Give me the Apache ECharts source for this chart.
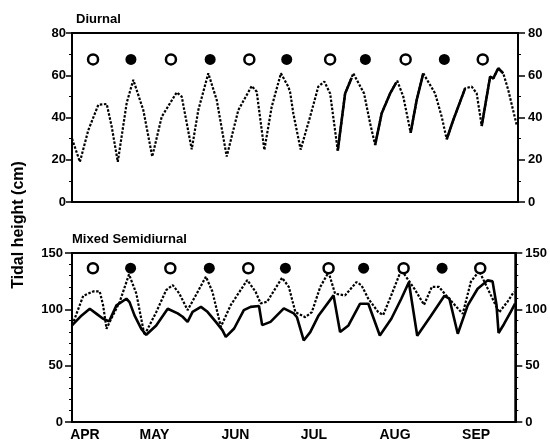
<!DOCTYPE html>
<html>
<head>
<meta charset="utf-8">
<script src="https://cdn.jsdelivr.net/npm/echarts@6/dist/echarts.min.js"></script>
<style>
html,body{margin:0;padding:0;background:#fff;}
#chart{width:550px;height:444px;}
</style>
</head>
<body>
<div id="chart"></div>
<script>
// x values are days counted from 1 April
const months = ['APR', 'MAY', 'JUN', 'JUL', 'AUG', 'SEP'];
const monthDays = [0, 30, 61, 91, 122, 153];

const diurnalTicks = [0, 20, 40, 60, 80];
const mixedTicks = [0, 50, 100, 150];

// Diurnal panel
const topDottedDays = [-1.5, 1.5, 4.7, 8.5, 11.7, 13.6, 15.9, 19.3, 21.8, 25.6, 29.0, 32.6, 38.3, 40.2, 44.0, 46.5, 50.3, 53.5, 57.3, 61.7, 66.8, 68.7, 71.6, 74.4, 77.9, 80.7, 81.4, 82.6, 85.4, 89.0, 92.1, 94.4, 96.6, 99.5, 102.3, 105.4, 109.5, 111.8, 113.7, 116.2, 119.4, 122.1, 124.4, 127.2, 129.5, 132.0, 136.5, 139.0, 140.9, 143.4, 147.9, 150.4, 152.3, 154.2, 157.4, 158.6, 160.5, 162.4, 164.3, 167.5];
const topDottedVals = [30, 19, 34, 46, 46.4, 35.6, 19, 47, 57.8, 43.5, 21.5, 40.4, 51.9, 49.9, 24.9, 43.5, 60.9, 48.3, 21.5, 43.5, 54.9, 52.2, 24.6, 45.1, 60.9, 54.6, 52, 42, 24.8, 40.4, 54.6, 57, 51.4, 24.3, 51.4, 60.9, 51.4, 37.2, 27, 42, 51.4, 57.4, 49.9, 32.8, 48.3, 60.9, 51.4, 40.4, 29.7, 38.8, 53.8, 54.6, 51.4, 36, 59.3, 58.5, 63.3, 60.9, 53, 36.4];
const topSolidDays = [99.5, 102.3, 104.8, null, 113.7, 116.2, 119.4, 121.6, null, 127.2, 129.5, 132.0, null, 140.9, 143.4, 147.9, null, 154.2, 157.4, 158.6, 160.5, 162.4];
const topSolidVals = [24.3, 51.4, 58.8, null, 27, 42, 51.4, 56.3, null, 32.8, 48.3, 60.9, null, 29.7, 38.8, 53.8, null, 36, 59.3, 58.5, 63.3, 60.9];

// Mixed semidiurnal panel
const botSolidDays = [-1.4, 2.2, 5.3, 7.9, 10.4, 12.7, 15.5, 19.3, 20.5, 22.4, 25.0, 26.9, 30.7, 35.1, 38.9, 40.8, 42.7, 44.6, 47.8, 50.3, 53.5, 56.0, 57.3, 60.5, 64.2, 66.8, 70.0, 71.2, 74.4, 79.5, 83.3, 84.5, 87.1, 89.6, 92.8, 98.5, 101.0, 104.2, 108.6, 111.8, 116.2, 120.6, 124.4, 127.3, 130.5, 135.7, 140.9, 142.8, 146.0, 149.8, 153.6, 157.4, 159.3, 160.8, 161.6, 163.7, 166.2, 167.9];
const botSolidVals = [86, 94.6, 100.5, 96, 91.6, 89.3, 103.5, 109.4, 106.4, 94.6, 82.7, 77.4, 85.7, 100.5, 96.4, 93.4, 88.9, 97.8, 102.2, 97.8, 88.9, 81.5, 75.6, 83, 99.3, 102.2, 102.9, 86, 88.9, 100.8, 96.4, 93, 72.4, 79.8, 94.6, 112.4, 79.8, 85.7, 104.9, 104.9, 76.8, 91.6, 109.4, 124, 76.5, 94, 112, 109.4, 78.3, 103.5, 118.3, 125.7, 124.8, 104, 79, 87, 97.5, 105];
const botDottedDays = [-1.4, 2.8, 6.6, 9.1, 10.4, 11.7, 13.0, 16.7, 20.3, 23.1, 26.2, 30.7, 34.5, 37.0, 39.5, 42.7, 45.9, 49.7, 52.2, 55.4, 59.2, 65.5, 68.7, 70.6, 73.1, 78.8, 81.4, 83.9, 87.7, 90.2, 93.4, 96.6, 99.1, 102.9, 107.3, 109.2, 111.8, 115.6, 117.5, 120.6, 124.4, 129.5, 133.1, 136.1, 138.8, 141.3, 147.9, 151.0, 154.2, 157.4, 161.8, 165.0, 167.5];
const botDottedVals = [86, 112, 115.9, 115.9, 103.5, 82.7, 89.3, 106.4, 131, 114, 77, 97.5, 117, 121.5, 114.2, 99.3, 112.7, 129, 115.6, 84.5, 103.8, 126, 115.6, 105.3, 106.7, 128, 120, 97.5, 93, 97.5, 119.8, 133, 113.8, 112.4, 124.2, 121.3, 109.4, 97.5, 95, 112.7, 135, 118, 104, 120, 120, 113, 96, 124.5, 134, 118.6, 97.3, 106.7, 115.6];

// Moon phases (open = full moon, filled = new moon)
const fullMoonDays = [6.5, 36.1, 65.9, 96.6, 125.3, 154.6];
const newMoonDays = [20.9, 51.0, 80.1, 110.0, 140.0];
const topMoonLevel = 67.5;
const botMoonLevel = 136.5;

function zip(xs, ys) {
  return xs.map((x, i) => (x === null || ys[i] === null) ? ['-', '-'] : [x, ys[i]]);
}
function moons(days, level) { return days.map(d => [d, level]); }

const FONT = 'Liberation Sans, Arial, Helvetica, sans-serif';
const chart = echarts.init(document.getElementById('chart'), null, { renderer: 'canvas' });

function yAxisCfg(grid, pos, max, interval, minorSplit, ticks, margin, tickLen) {
  return {
    gridIndex: grid, type: 'value', position: pos, min: 0, max: max, interval: interval,
    axisLine: { show: true, onZero: false, lineStyle: { color: '#000', width: 2 } },
    axisTick: { show: true, inside: false, length: tickLen, lineStyle: { color: '#000', width: 1.5 } },
    minorTick: { show: true, splitNumber: minorSplit, length: 3, lineStyle: { color: '#000', width: 1 } },
    axisLabel: {
      show: true, margin: margin, color: '#000', fontWeight: 'bold', fontSize: 13, fontFamily: FONT,
      formatter: v => ticks.indexOf(v) >= 0 ? String(v) : ''
    },
    splitLine: { show: false }
  };
}

const dottedStyle = { color: '#000', width: 2.2, type: [2.5, 1.6] };
const solidStyle = { color: '#000', width: 2.6, type: 'solid' };
const openMoon = { color: '#fff', borderColor: '#000', borderWidth: 2.5, opacity: 1 };
const filledMoon = { color: '#000', opacity: 1 };

const option = {
  animation: false,
  backgroundColor: '#fff',
  grid: [
    { left: 72, right: 32, top: 33, height: 169, show: true, borderColor: '#000', borderWidth: 2, backgroundColor: 'transparent' },
    { left: 72, right: 32, top: 253, height: 169, show: true, borderColor: '#000', borderWidth: 2, backgroundColor: 'transparent' }
  ],
  xAxis: [
    {
      gridIndex: 0, type: 'value', min: -1.5, max: 168,
      axisLine: { show: true, onZero: false, lineStyle: { color: '#000', width: 2 } },
      axisTick: { show: false }, axisLabel: { show: false }, splitLine: { show: false }
    },
    {
      gridIndex: 1, type: 'value', min: -1.5, max: 168,
      axisLine: { show: true, onZero: false, lineStyle: { color: '#000', width: 2 } },
      axisTick: { show: false }, splitLine: { show: false },
      axisLabel: {
        show: true, customValues: monthDays, margin: 6, color: '#000',
        fontWeight: 'bold', fontSize: 14, fontFamily: FONT,
        formatter: v => {
          const i = monthDays.indexOf(v);
          if (i < 0) return '';
          return i === 0 ? '{first|' + months[i] + '}' : months[i];
        },
        rich: {
          first: { padding: [0, 0, 0, 18], color: '#000', fontWeight: 'bold', fontSize: 14, fontFamily: FONT }
        }
      }
    }
  ],
  yAxis: [
    yAxisCfg(0, 'left', 80, 20, 2, diurnalTicks, 6, 6),
    yAxisCfg(0, 'right', 80, 20, 2, diurnalTicks, 10, 7),
    yAxisCfg(1, 'left', 150, 50, 5, mixedTicks, 9, 7),
    yAxisCfg(1, 'right', 150, 50, 5, mixedTicks, 10, 7)
  ],
  graphic: [
    { type: 'text', left: 76, top: 13, style: { text: 'Diurnal', fill: '#000', font: 'bold 13px ' + FONT } },
    { type: 'text', left: 72, top: 233, style: { text: 'Mixed Semidiurnal', fill: '#000', font: 'bold 13px ' + FONT } },
    {
      type: 'text', x: 19, y: 225, rotation: Math.PI / 2,
      style: { text: 'Tidal height (cm)', fill: '#000', font: 'bold 16px ' + FONT, align: 'center', verticalAlign: 'middle' }
    }
  ],
  series: [
    { type: 'line', xAxisIndex: 0, yAxisIndex: 0, data: zip(topDottedDays, topDottedVals), showSymbol: false, symbol: 'none', lineStyle: dottedStyle, z: 2 },
    { type: 'line', xAxisIndex: 0, yAxisIndex: 0, data: zip(topSolidDays, topSolidVals), showSymbol: false, symbol: 'none', connectNulls: false, lineStyle: solidStyle, z: 3 },
    { type: 'scatter', xAxisIndex: 0, yAxisIndex: 0, data: moons(fullMoonDays, topMoonLevel), symbol: 'circle', symbolSize: 10, itemStyle: openMoon, z: 5 },
    { type: 'scatter', xAxisIndex: 0, yAxisIndex: 0, data: moons(newMoonDays, topMoonLevel), symbol: 'circle', symbolSize: 11, itemStyle: filledMoon, z: 5 },

    { type: 'line', xAxisIndex: 1, yAxisIndex: 2, data: zip(botDottedDays, botDottedVals), showSymbol: false, symbol: 'none', lineStyle: dottedStyle, z: 2 },
    { type: 'line', xAxisIndex: 1, yAxisIndex: 2, data: zip(botSolidDays, botSolidVals), showSymbol: false, symbol: 'none', lineStyle: solidStyle, z: 3 },
    { type: 'scatter', xAxisIndex: 1, yAxisIndex: 2, data: moons(fullMoonDays, botMoonLevel), symbol: 'circle', symbolSize: 10, itemStyle: openMoon, z: 5 },
    { type: 'scatter', xAxisIndex: 1, yAxisIndex: 2, data: moons(newMoonDays, botMoonLevel), symbol: 'circle', symbolSize: 11, itemStyle: filledMoon, z: 5 }
  ]
};
chart.setOption(option);
</script>
</body>
</html>
